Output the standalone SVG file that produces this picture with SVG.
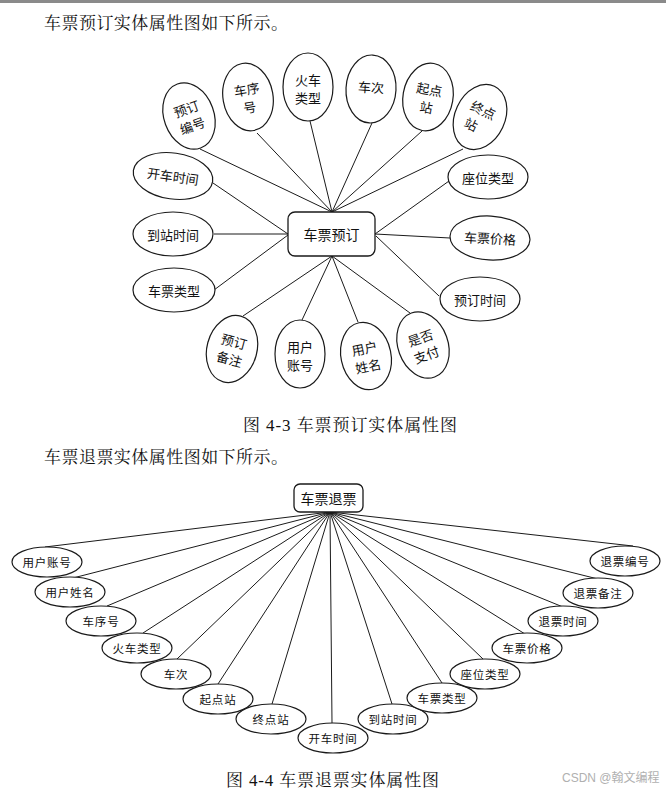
<svg xmlns="http://www.w3.org/2000/svg" width="666" height="790" viewBox="0 0 666 790">
<style>
.bg{fill:#ffffff}
.attr{fill:#ffffff;stroke:#1a1a1a;stroke-width:1.2}
.ent{fill:#ffffff;stroke:#1a1a1a;stroke-width:1.3}
.lbl{font-family:"Noto Sans CJK SC","Noto Sans",sans-serif;font-size:13px;fill:#111;text-anchor:middle;dominant-baseline:central}
.lbl2{font-family:"Noto Sans CJK SC","Noto Sans",sans-serif;font-size:11.5px;letter-spacing:0.8px;fill:#111;text-anchor:middle;dominant-baseline:central}
.ename{font-family:"Noto Sans CJK SC","Noto Sans",sans-serif;font-size:14px;fill:#111;text-anchor:middle;dominant-baseline:central}
.para{font-family:"Liberation Serif","Noto Serif CJK SC","Noto Sans CJK SC",serif;font-size:17px;fill:#111}
.wm{font-family:"Liberation Sans","Noto Sans CJK SC",sans-serif;font-size:12px;fill:#b0b0b0}
.conn line{stroke:#1a1a1a;stroke-width:1}
</style>
<rect class="bg" x="0" y="0" width="666" height="790"/>
<rect x="0" y="0" width="666" height="3" fill="#8a8a8a"/>
<text class="para" x="44" y="29" textLength="244" lengthAdjust="spacing">车票预订实体属性图如下所示。</text>

<!-- Diagram 1 connectors -->
<g id="connectors1" class="conn">
<line x1="200" y1="149" x2="332" y2="212"/>
<line x1="257" y1="133" x2="332" y2="212"/>
<line x1="310" y1="121" x2="332" y2="212"/>
<line x1="372" y1="123" x2="332" y2="212"/>
<line x1="422" y1="131" x2="332" y2="212"/>
<line x1="463" y1="149" x2="332" y2="212"/>
<line x1="213" y1="183" x2="288" y2="234"/>
<line x1="214" y1="234" x2="288" y2="234"/>
<line x1="214" y1="290" x2="288" y2="235"/>
<line x1="449" y1="181" x2="375" y2="234"/>
<line x1="375" y1="234" x2="450" y2="238"/>
<line x1="376" y1="236" x2="439" y2="296"/>
<line x1="332" y1="256" x2="243" y2="316"/>
<line x1="332" y1="256" x2="302" y2="320"/>
<line x1="332" y1="256" x2="358" y2="322"/>
<line x1="332" y1="256" x2="410" y2="313"/>
</g>

<g id="n-chepiaoyuding">
<rect class="ent" x="288" y="212" width="87" height="44" rx="7"/>
<text class="ename" x="331.5" y="234">车票预订</text>
</g>

<g id="n-yudingbianhao" transform="translate(189,116) rotate(-20)">
<ellipse class="attr" rx="25" ry="34"/>
<text class="lbl" x="0" y="-8">预订</text><text class="lbl" x="0" y="10">编号</text>
</g>
<g id="n-chexuhao" transform="translate(248,97) rotate(-10)">
<ellipse class="attr" rx="25" ry="34"/>
<text class="lbl" x="0" y="-8">车序</text><text class="lbl" x="0" y="10">号</text>
</g>
<g id="n-huocheleixing" transform="translate(308,87)">
<ellipse class="attr" rx="25" ry="34"/>
<text class="lbl" x="0" y="-8">火车</text><text class="lbl" x="0" y="10">类型</text>
</g>
<g id="n-checi" transform="translate(371,89) rotate(3)">
<ellipse class="attr" rx="25" ry="34"/>
<text class="lbl" x="0" y="-2">车次</text>
</g>
<g id="n-qidianzhan" transform="translate(428,97) rotate(10)">
<ellipse class="attr" rx="25" ry="34"/>
<text class="lbl" x="0" y="-8">起点</text><text class="lbl" x="0" y="10">站</text>
</g>
<g id="n-zhongdianzhan" transform="translate(480,117) rotate(25)">
<ellipse class="attr" rx="25" ry="34"/>
<text class="lbl" x="0" y="-8">终点</text><text class="lbl" x="-5" y="10">站</text>
</g>
<g id="n-kaicheshijian" transform="translate(173,176) rotate(8)">
<ellipse class="attr" rx="40" ry="23"/>
<text class="lbl" x="0" y="0">开车时间</text>
</g>
<g id="n-daozhanshijian" transform="translate(173,234)">
<ellipse class="attr" rx="40" ry="22"/>
<text class="lbl" x="0" y="0">到站时间</text>
</g>
<g id="n-chepiaoleixing" transform="translate(174,290)">
<ellipse class="attr" rx="41" ry="22"/>
<text class="lbl" x="0" y="0">车票类型</text>
</g>
<g id="n-zuoweileixing" transform="translate(488,177)">
<ellipse class="attr" rx="40" ry="22"/>
<text class="lbl" x="0" y="0">座位类型</text>
</g>
<g id="n-chepiaojiage" transform="translate(490,238) rotate(3)">
<ellipse class="attr" rx="40" ry="22"/>
<text class="lbl" x="0" y="0">车票价格</text>
</g>
<g id="n-yudingshijian" transform="translate(480,299)">
<ellipse class="attr" rx="40" ry="22"/>
<text class="lbl" x="0" y="0">预订时间</text>
</g>
<g id="n-yudingbeizhu" transform="translate(232,349) rotate(15)">
<ellipse class="attr" rx="25" ry="34"/>
<text class="lbl" x="0" y="-8">预订</text><text class="lbl" x="0" y="10">备注</text>
</g>
<g id="n-yonghuzhanghao" transform="translate(300,354)">
<ellipse class="attr" rx="25" ry="34"/>
<text class="lbl" x="0" y="-8">用户</text><text class="lbl" x="0" y="10">账号</text>
</g>
<g id="n-yonghuxingming" transform="translate(366,356) rotate(-12)">
<ellipse class="attr" rx="25" ry="34"/>
<text class="lbl" x="0" y="-8">用户</text><text class="lbl" x="0" y="10">姓名</text>
</g>
<g id="n-shifouzhifu" transform="translate(423,345) rotate(-20)">
<ellipse class="attr" rx="25" ry="34"/>
<text class="lbl" x="0" y="-8">是否</text><text class="lbl" x="0" y="10">支付</text>
</g>

<text class="para" x="243" y="431" textLength="214" lengthAdjust="spacing">图 4-3 车票预订实体属性图</text>
<text class="para" x="44" y="463" textLength="244" lengthAdjust="spacing">车票退票实体属性图如下所示。</text>

<!-- Diagram 2 connectors -->
<g id="connectors2" class="conn">
<line x1="330" y1="512" x2="45" y2="547"/>
<line x1="330" y1="512" x2="73" y2="578"/>
<line x1="330" y1="512" x2="107" y2="606"/>
<line x1="330" y1="512" x2="143" y2="633"/>
<line x1="330" y1="512" x2="177" y2="659"/>
<line x1="330" y1="512" x2="218" y2="684"/>
<line x1="330" y1="512" x2="272" y2="704"/>
<line x1="330" y1="512" x2="332" y2="723"/>
<line x1="330" y1="512" x2="392" y2="704"/>
<line x1="330" y1="512" x2="442" y2="683"/>
<line x1="330" y1="512" x2="483" y2="659"/>
<line x1="330" y1="512" x2="525" y2="634"/>
<line x1="330" y1="512" x2="563" y2="607"/>
<line x1="330" y1="512" x2="598" y2="579"/>
<line x1="330" y1="512" x2="633" y2="546"/>
</g>

<g id="n-chepiaotuipiao">
<rect class="ent" x="294" y="484" width="69" height="28" rx="6"/>
<text class="ename" x="328.5" y="498">车票退票</text>
</g>

<g id="m-yonghuzhanghao"><ellipse class="attr" cx="47" cy="562" rx="35" ry="15"/><text class="lbl2" x="47" y="562">用户账号</text></g>
<g id="m-yonghuxingming"><ellipse class="attr" cx="70" cy="592" rx="35" ry="15"/><text class="lbl2" x="70" y="592">用户姓名</text></g>
<g id="m-chexuhao"><ellipse class="attr" cx="101" cy="621" rx="35" ry="15"/><text class="lbl2" x="101" y="621">车序号</text></g>
<g id="m-huocheleixing"><ellipse class="attr" cx="137" cy="648" rx="35" ry="15"/><text class="lbl2" x="137" y="648">火车类型</text></g>
<g id="m-checi"><ellipse class="attr" cx="176" cy="674" rx="35" ry="15"/><text class="lbl2" x="176" y="674">车次</text></g>
<g id="m-qidianzhan"><ellipse class="attr" cx="218" cy="699" rx="35" ry="15"/><text class="lbl2" x="218" y="699">起点站</text></g>
<g id="m-zhongdianzhan"><ellipse class="attr" cx="271" cy="719" rx="35" ry="15"/><text class="lbl2" x="271" y="719">终点站</text></g>
<g id="m-kaicheshijian"><ellipse class="attr" cx="333" cy="738" rx="35" ry="15"/><text class="lbl2" x="333" y="738">开车时间</text></g>
<g id="m-daozhanshijian"><ellipse class="attr" cx="393" cy="719" rx="35" ry="15"/><text class="lbl2" x="393" y="719">到站时间</text></g>
<g id="m-chepiaoleixing"><ellipse class="attr" cx="442" cy="698" rx="35" ry="15"/><text class="lbl2" x="442" y="698">车票类型</text></g>
<g id="m-zuoweileixing"><ellipse class="attr" cx="485" cy="674" rx="35" ry="15"/><text class="lbl2" x="485" y="674">座位类型</text></g>
<g id="m-chepiaojiage"><ellipse class="attr" cx="527" cy="648" rx="35" ry="15"/><text class="lbl2" x="527" y="648">车票价格</text></g>
<g id="m-tuipiaoshijian"><ellipse class="attr" cx="563" cy="621" rx="35" ry="15"/><text class="lbl2" x="563" y="621">退票时间</text></g>
<g id="m-tuipiaobeizhu"><ellipse class="attr" cx="598" cy="593" rx="35" ry="15"/><text class="lbl2" x="598" y="593">退票备注</text></g>
<g id="m-tuipiaobianhao"><ellipse class="attr" cx="625" cy="561" rx="35" ry="15"/><text class="lbl2" x="625" y="561">退票编号</text></g>

<text class="para" x="226" y="786" textLength="213" lengthAdjust="spacing">图 4-4 车票退票实体属性图</text>
<text class="wm" x="562" y="782">CSDN @翰文编程</text>
</svg>
